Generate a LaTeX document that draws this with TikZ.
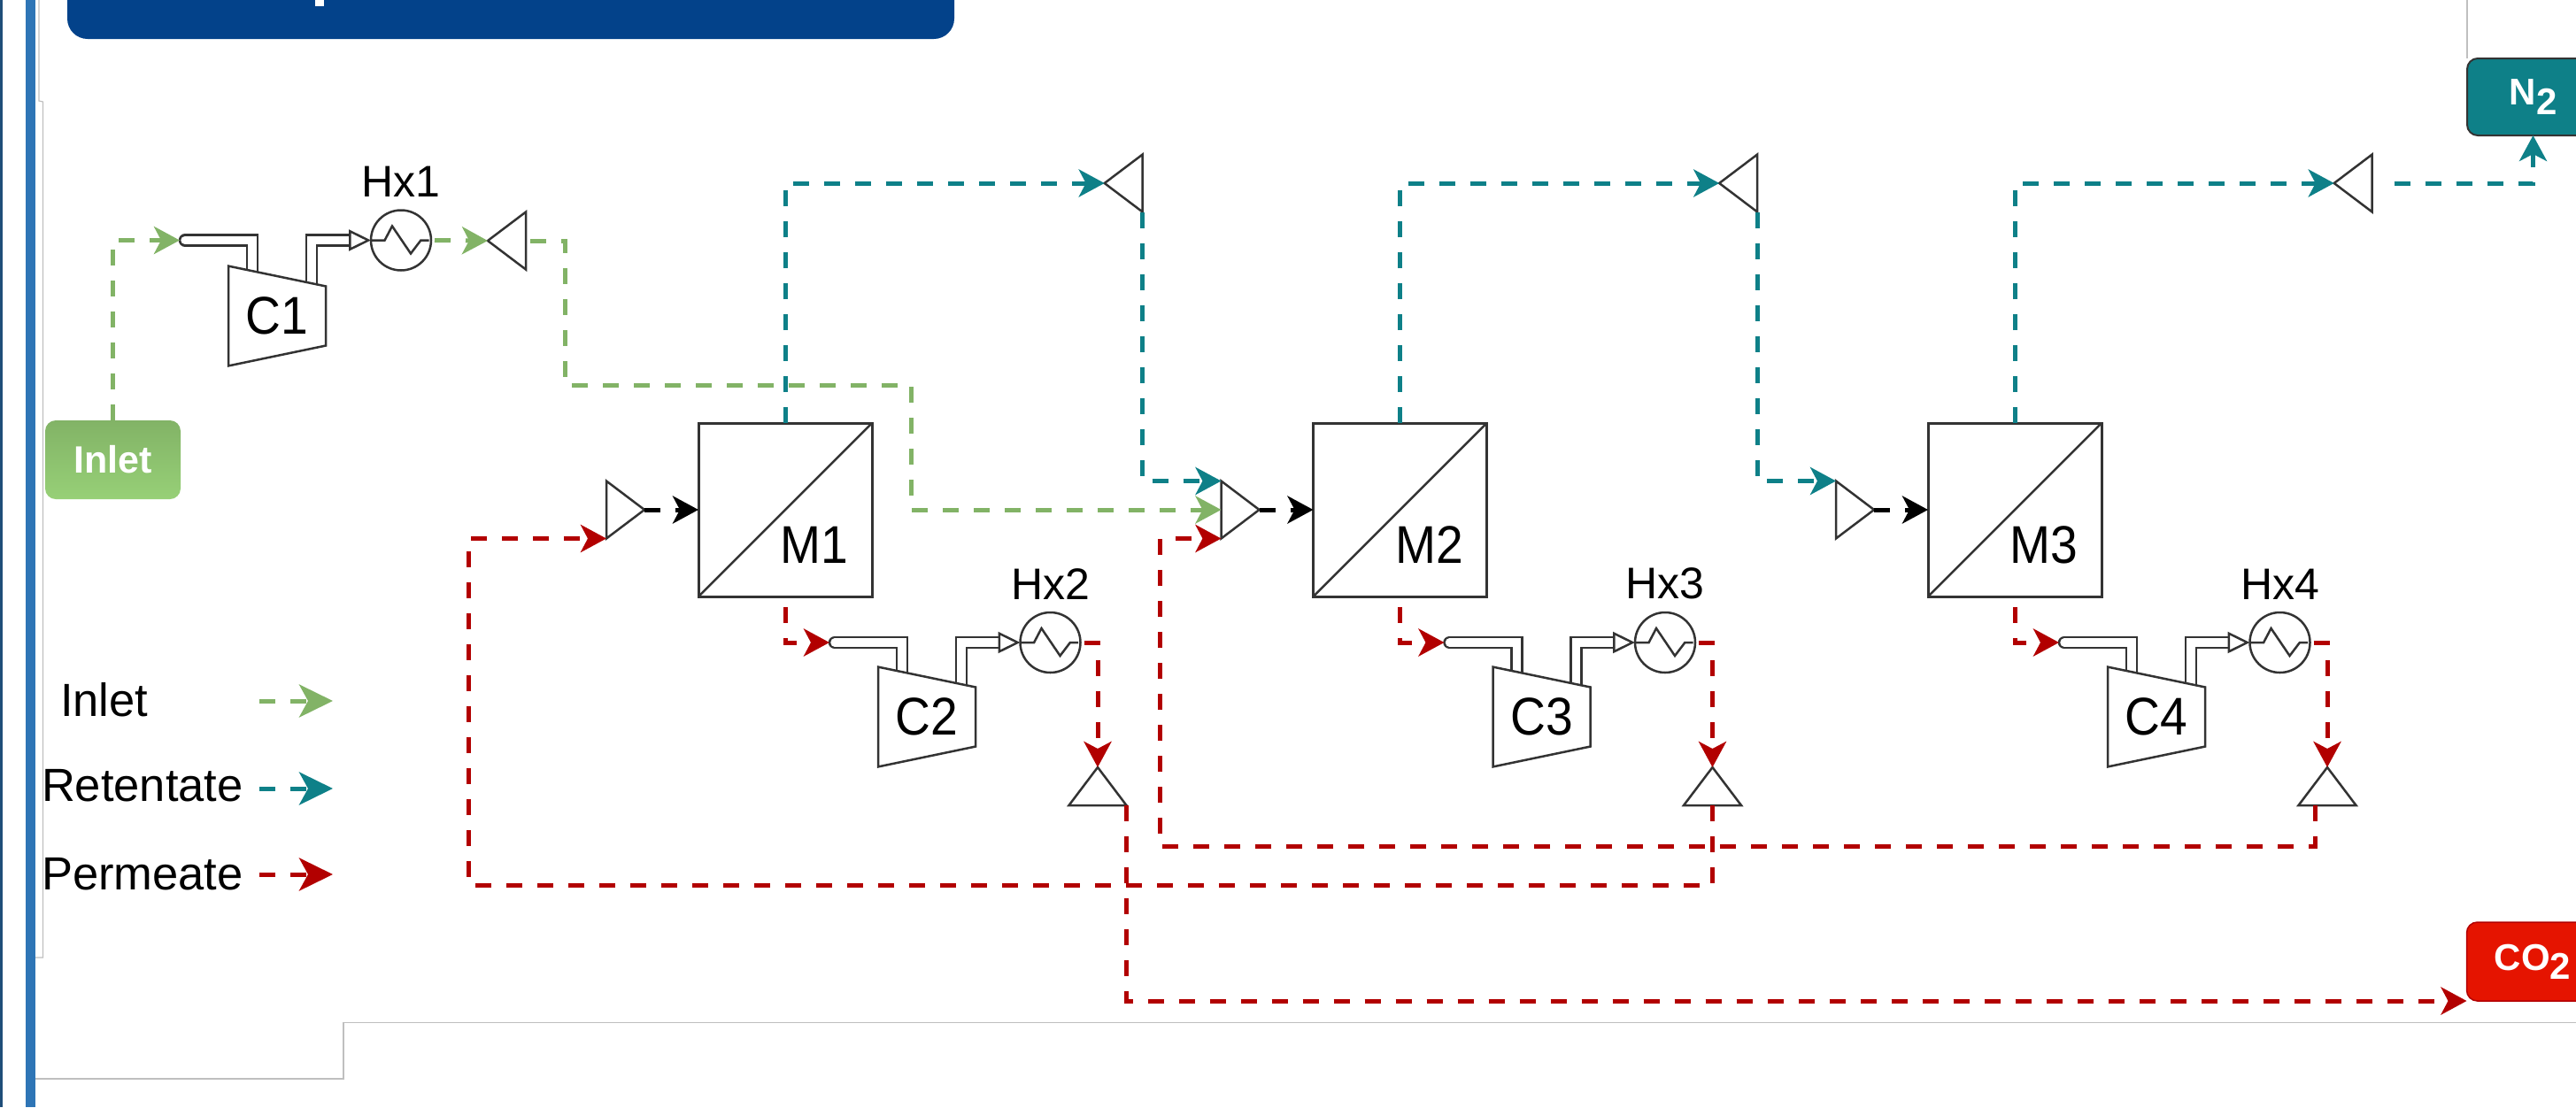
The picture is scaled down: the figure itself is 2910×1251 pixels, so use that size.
\documentclass[tikz,border=0pt]{standalone}
\usepackage{fontspec}
\setmainfont{Liberation Sans}
\newfontfamily\unitfont[FakeStretch=.92]{Liberation Sans}
\usetikzlibrary{arrows.meta,positioning,shapes.geometric,backgrounds}
\definecolor{inletgreen}{HTML}{82B366}
\definecolor{inletlight}{HTML}{97D077}
\definecolor{retteal}{HTML}{0E8088}
\definecolor{permred}{HTML}{B20000}
\definecolor{co2red}{HTML}{E51400}
\definecolor{bannerblue}{HTML}{03428A}
\definecolor{barblue}{HTML}{2E75B6}
\definecolor{edgeblue}{HTML}{1F4E79}
\definecolor{framegray}{HTML}{BFBFBF}
\definecolor{unitline}{HTML}{333333}
\tikzset{
  membrane/.style={draw=unitline, line width=3pt, fill=white, minimum size=196pt, inner sep=0pt, outer sep=0pt, path picture={\draw[line width=2.5pt] (path picture bounding box.south west) -- (path picture bounding box.north east);}},
  compressor/.style={trapezium, shape border rotate=270, trapezium left angle=78.4, trapezium right angle=78.4, trapezium stretches=true, draw=unitline, line width=2.5pt, fill=white, minimum height=110pt, minimum width=113.6pt, inner sep=0pt, outer sep=0pt, font=\unitfont\fontsize{60}{60}\selectfont},
  exchanger/.style={circle, draw=unitline, line width=2.5pt, fill=white, minimum size=68pt, inner sep=0pt, outer sep=0pt, path picture={\draw[line width=2.5pt] (path picture bounding box.center) ++(-34,0) -- ++(15.6,0) -- ++(8.4,-16) -- ++(21,31) -- ++(11.4,-15) -- ++(9.2,0);}},
  triangle/.style={isosceles triangle, isosceles triangle stretches, draw=unitline, line width=2.5pt, fill=white, minimum width=65pt, minimum height=43pt, inner sep=0pt, outer sep=0pt, anchor=apex},
  mixer/.style={triangle, shape border rotate=0, anchor=east},
  splitter/.style={triangle, shape border rotate=180},
  collector/.style={triangle, shape border rotate=90},
  unitlabel/.style={inner sep=0pt, outer sep=0pt, font=\unitfont\fontsize{60}{60}\selectfont},
  hxlabel/.style={inner sep=0pt, outer sep=0pt, font=\fontsize{50}{50}\selectfont},
  legendlabel/.style={inner sep=0pt, outer sep=0pt, anchor=base west, font=\fontsize{52.5}{52.5}\selectfont},
  terminal/.style={rounded corners=12pt, minimum width=149pt, inner sep=0pt, outer sep=0pt, text=white, font=\bfseries\fontsize{42}{42}\selectfont},
  flow/.style={-{Stealth[length=29pt, width=31pt, inset=8pt]}, line width=5pt, dash pattern=on 18pt off 17pt},
  inletflow/.style={flow, draw=inletgreen},
  retflow/.style={flow, draw=retteal},
  permflow/.style={flow, draw=permred},
  feedflow/.style={flow, draw=black},
  legendtip/.style={-{Stealth[length=38pt, width=37pt, inset=10pt]}},
  pipe/.style={draw=unitline, line width=2.5pt, double=white, double distance=9.5pt},
  pipein/.style={pipe, line cap=round},
  pipeout/.style={pipe, -{Triangle[open, length=25pt, width=24pt, line width=2.5pt, fill=white]}},
  frameline/.style={draw=framegray, line width=1.2pt}
}

\begin{document}
\begin{tikzpicture}[x=1pt, y=-1pt]
  \useasboundingbox (0,0) rectangle (2910,1251);

  \fill[edgeblue] (0,0) rectangle (3,1251);
  \fill[barblue] (29,0) rectangle (40,1251);
  \draw[frameline] (44,0) -- (44,114) -- (48.5,115) -- (48.5,1082) -- (40,1082);
  \draw[frameline] (40,1219) -- (388,1219) -- (388,1155.5) -- (2910,1155.5);
  \draw[frameline] (2787,0) -- (2787,66);
  \fill[bannerblue, rounded corners=23pt] (76,-40) rectangle (1078,44);
  \fill[white] (355.5,0) rectangle (366,6.5);

  \node[terminal, minimum width=153pt, minimum height=89pt, top color=inletgreen, bottom color=inletlight, font=\bfseries\fontsize{43}{43}\selectfont] (inlet) at (127.5,519.5) {Inlet};
  \node[terminal, minimum height=87pt, fill=retteal, draw=black!80, line width=2pt] (n2) at (2861.5,109.5) {N\raisebox{-11pt}{2}};
  \node[terminal, minimum height=89pt, fill=co2red, draw=permred, line width=1.5pt] (co2) at (2861,1086.5) {CO\raisebox{-10pt}{2}};

  \node[membrane] (m1) at (887,576) {};
  \node[membrane, right=498.5pt of m1] (m2) {};
  \node[membrane, right=498.5pt of m2] (m3) {};
  \node[unitlabel] (m1t) at (920,616) {M1};
  \node[unitlabel] (m2t) at (1615,616) {M2};
  \node[unitlabel] (m3t) at (2309,616) {M3};

  \node[mixer, left=61pt of m1] (mx1) {};
  \node[mixer, left=61pt of m2] (mx2) {};
  \node[mixer, left=61pt of m3] (mx3) {};

  \node[splitter] (t1) at (551,272) {};
  \node[splitter] (t2) at (1247.7,207) {};
  \node[splitter] (t3) at (1942.2,207) {};
  \node[splitter] (t4) at (2636.7,207) {};

  \node[collector] (b2) at (1240,867) {};
  \node[collector] (b3) at (1934.5,867) {};
  \node[collector] (b4) at (2629,867) {};

  \node[compressor] (c1) at (313,357) {C1};
  \node[compressor] (c2) at (1047,810) {C2};
  \node[compressor] (c3) at (1741.5,810) {C3};
  \node[compressor] (c4) at (2436,810) {C4};

  \node[exchanger] (hx1) at (453,271.5) {};
  \node[exchanger] (hx2) at (1186.5,726) {};
  \node[exchanger] (hx3) at (1881,726) {};
  \node[exchanger] (hx4) at (2575.5,726) {};
  \node[hxlabel, above=15pt of hx1] (hx1t) {Hx1};
  \node[hxlabel, above=15pt of hx2] (hx2t) {Hx2};
  \node[hxlabel, above=15pt of hx3] (hx3t) {Hx3};
  \node[hxlabel, above=15pt of hx4] (hx4t) {Hx4};

  \coordinate (c1i) at (203,271.5);
  \coordinate (c2i) at (937,726);
  \coordinate (c3i) at (1631.5,726);
  \coordinate (c4i) at (2326,726);

  \begin{scope}[on background layer]
    \draw[pipein] ([xshift=6pt]c1i) -| ([xshift=-28pt]c1.center);
    \draw[pipein] ([xshift=6pt]c2i) -| ([xshift=-28pt]c2.center);
    \draw[pipein] ([xshift=6pt]c3i) -| ([xshift=-28pt]c3.center);
    \draw[pipein] ([xshift=6pt]c4i) -| ([xshift=-28pt]c4.center);
    \draw[pipeout] ([xshift=39pt]c1.center) |- (hx1.west);
    \draw[pipeout] ([xshift=39pt]c2.center) |- (hx2.west);
    \draw[pipeout] ([xshift=39pt]c3.center) |- (hx3.west);
    \draw[pipeout] ([xshift=39pt]c4.center) |- (hx4.west);
  \end{scope}

  \draw[inletflow] (inlet.north) |- (c1i);
  \draw[inletflow] ([xshift=4pt]hx1.east) -- (t1.apex);
  \draw[inletflow] ([xshift=5pt]t1.lower side) -| (638,435) -| (1029,576) -- (mx2.lower side);

  \draw[retflow] (m1.north) |- (t2.apex);
  \draw[retflow] (m2.north) |- (t3.apex);
  \draw[retflow] (m3.north) |- (t4.apex);
  \draw[retflow] (t2.left corner) |- (mx2.left corner);
  \draw[retflow] (t3.left corner) |- (mx3.left corner);
  \draw[retflow] ([xshift=25pt]t4.lower side) -| (n2.south);

  \draw[feedflow] (mx1.apex) -- (m1.west);
  \draw[feedflow] (mx2.apex) -- (m2.west);
  \draw[feedflow] (mx3.apex) -- (m3.west);

  \draw[permflow] ([yshift=-12pt]m1.south) |- (c2i);
  \draw[permflow] ([yshift=-12pt]m2.south) |- (c3i);
  \draw[permflow] ([yshift=-12pt]m3.south) |- (c4i);
  \draw[permflow] ([xshift=4pt]hx2.east) -| (b2.apex);
  \draw[permflow] ([xshift=4pt]hx3.east) -| (b3.apex);
  \draw[permflow] ([xshift=4pt]hx4.east) -| (b4.apex);
  \draw[permflow] (b2.right corner) |- (co2.south west);
  \draw[permflow] (b3.lower side) |- (529,1000) |- (mx1.right corner);
  \draw[permflow] ([xshift=-14pt]b4.lower side) |- (1310.5,956) |- (mx2.right corner);

  \node[legendlabel] (linlet) at (68,809) {Inlet};
  \node[legendlabel] (lret) at (47,905) {Retentate};
  \node[legendlabel] (lperm) at (47,1005) {Permeate};
  \coordinate (linleta) at (293,792);
  \coordinate (linletb) at (376,792);
  \coordinate (lreta) at (293,891);
  \coordinate (lretb) at (376,891);
  \coordinate (lperma) at (293,988);
  \coordinate (lpermb) at (376,988);
  \draw[inletflow, legendtip] (linleta) -- (linletb);
  \draw[retflow, legendtip] (lreta) -- (lretb);
  \draw[permflow, legendtip] (lperma) -- (lpermb);
\end{tikzpicture}
\end{document}
